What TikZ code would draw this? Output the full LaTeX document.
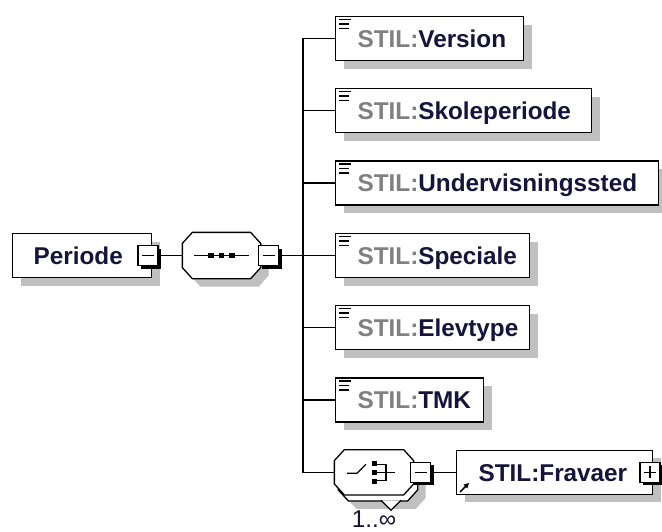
\documentclass[tikz,border=0pt]{standalone}
\usepackage{fontspec}
\setmainfont{Liberation Sans}
\usepackage{xcolor}
\definecolor{xsdName}{HTML}{14143C}
\definecolor{xsdPrefix}{HTML}{808080}
\definecolor{xsdShadow}{HTML}{C0C0C0}
\usepackage{tikz}
\usetikzlibrary{shadows, arrows.meta, calc}

\newcommand{\stil}[1]{\hspace*{22pt}{\color{xsdPrefix}STIL:}#1}
% octagon round the corners of a node
\newcommand{\octagon}[1]{([xshift=10pt]#1.north west) -- ([xshift=-10pt]#1.north east)
  -- ([yshift=-11pt]#1.north east) -- ([yshift=11pt]#1.south east)
  -- ([xshift=-10pt]#1.south east) -- ([xshift=10pt]#1.south west)
  -- ([yshift=11pt]#1.south west) -- ([yshift=-11pt]#1.north west) -- cycle}

\begin{document}
\begin{tikzpicture}[x=1pt, y=-1pt, line width=1.3pt,
  boxshadow/.style={drop shadow={shadow xshift=8pt, shadow yshift=-8pt, fill=xsdShadow, opacity=1}},
  elem/.style={draw, fill=white, boxshadow, anchor=west, inner sep=0pt,
    minimum height=44pt, text width=#1, align=left, text height=17.4pt, text depth=0pt,
    font=\fontsize{24.3}{29}\selectfont\bfseries, text=xsdName},
  compositor/.style={inner sep=0pt, minimum width=77pt, minimum height=45pt},
  octa/.style={draw, fill=white},
  expander/.style={draw, fill=white, inner sep=0pt, minimum size=20pt,
    drop shadow={shadow xshift=3pt, shadow yshift=-3pt, fill=black, opacity=1}},
  btnminus/.style={expander, path picture={\draw[line width=1.3pt]
    ([xshift=4pt]path picture bounding box.west) -- ([xshift=-4pt]path picture bounding box.east);}},
  btnplus/.style={expander, path picture={\draw[line width=1.3pt]
    ([xshift=4pt]path picture bounding box.west) -- ([xshift=-4pt]path picture bounding box.east)
    ([yshift=-4pt]path picture bounding box.north) -- ([yshift=4pt]path picture bounding box.south);}},
  icon/.style={line width=1.6pt},
  link/.style={line width=1.3pt}
]
  \useasboundingbox (0,0) rectangle (662,531);

  % Root element and sequence
  \node[elem=139pt] (periode) at (12,255.5) {\hspace*{21pt}Periode};
  \node[btnminus] (permin) at (148,255.5) {};
  \node[compositor] (seq) at (221.5,255.5) {};
  \draw[octa, boxshadow] \octagon{seq};
  \node[btnminus] (seqmin) at (268.5,255.5) {};

  % Child elements
  \node[elem=188pt] (ver) at (335,38.5) {\stil{Version}};
  \node[elem=256pt] (skole) at (335,110.8) {\stil{Skoleperiode}};
  \node[elem=323pt] (underv) at (335,183.1) {\stil{Undervisningssted}};
  \node[elem=194pt] (spec) at (335,255.5) {\stil{Speciale}};
  \node[elem=194pt] (elev) at (335,327.7) {\stil{Elevtype}};
  \node[elem=148pt] (tmk) at (335,400) {\stil{TMK}};

  % Choice (1..oo) and referenced element
  \node[compositor, minimum width=78pt, minimum height=44pt] (chback) at (378,478.3) {};
  \draw[octa, boxshadow] \octagon{chback};
  \draw[fill=white] ([shift={(3,22)}]chback.center) -- ++(10,10) -- ++(10,-10);
  \node[compositor, minimum width=78pt, minimum height=44pt] (ch) at (374,472.3) {};
  \draw[octa] \octagon{ch};
  \node[btnminus] (chmin) at (420.5,472.3) {};
  \node[elem=196pt] (fra) at (456,472.3) {\hspace*{22pt}STIL:Fravaer};
  \node[btnplus] (fraplus) at (650,472.3) {};
  \node[anchor=base, inner sep=0pt, font=\fontsize{24.3}{29}\selectfont, text=xsdName]
    (mult) at (374,527) {1..∞};

  % Symbols
  \draw ([xshift=12pt]seq.west) -- ([xshift=-12pt]seq.east);
  \foreach \dx in {-10.5,0,10.5}
    \fill ([xshift=\dx pt]seq.center) +(-2.8,-2.8) rectangle +(2.8,2.8);
  \draw ([shift={(-27,1)}]ch.center) -- ++(10,0) -- ++(9,-9);
  \foreach \dy in {-9,0,9}
    \fill ([shift={(0.5,\dy)}]ch.center) +(-2.5,-2.5) rectangle +(2.5,2.5);
  \draw ([shift={(3,-8)}]ch.center) -- ++(9,0) -- ++(0,16) -- ++(-9,0);
  \draw ([shift={(3,0)}]ch.center) -- ++(18,0);
  \foreach \n in {ver,skole,underv,spec,elev,tmk}
    \foreach \dy/\len in {3.5/12,8/10,12.5/10}
      \draw[icon] ([shift={(4,\dy)}]\n.north west) -- ++(\len,0);
  \draw[icon, -{Triangle[length=5pt,width=5pt]}] ([shift={(4,-3)}]fra.south west) -- ++(9,-9);

  % Connectors
  \coordinate (fork) at (303,255.5);
  \draw[link] (permin.east) -- (seq.west);
  \draw[link] (seqmin.east) -- (fork);
  \foreach \n in {ver,skole,underv,spec,elev,tmk,ch}
    \draw[link] (fork) |- (\n.west);
  \draw[link] (chmin.east) -- (fra.west);
\end{tikzpicture}
\end{document}
